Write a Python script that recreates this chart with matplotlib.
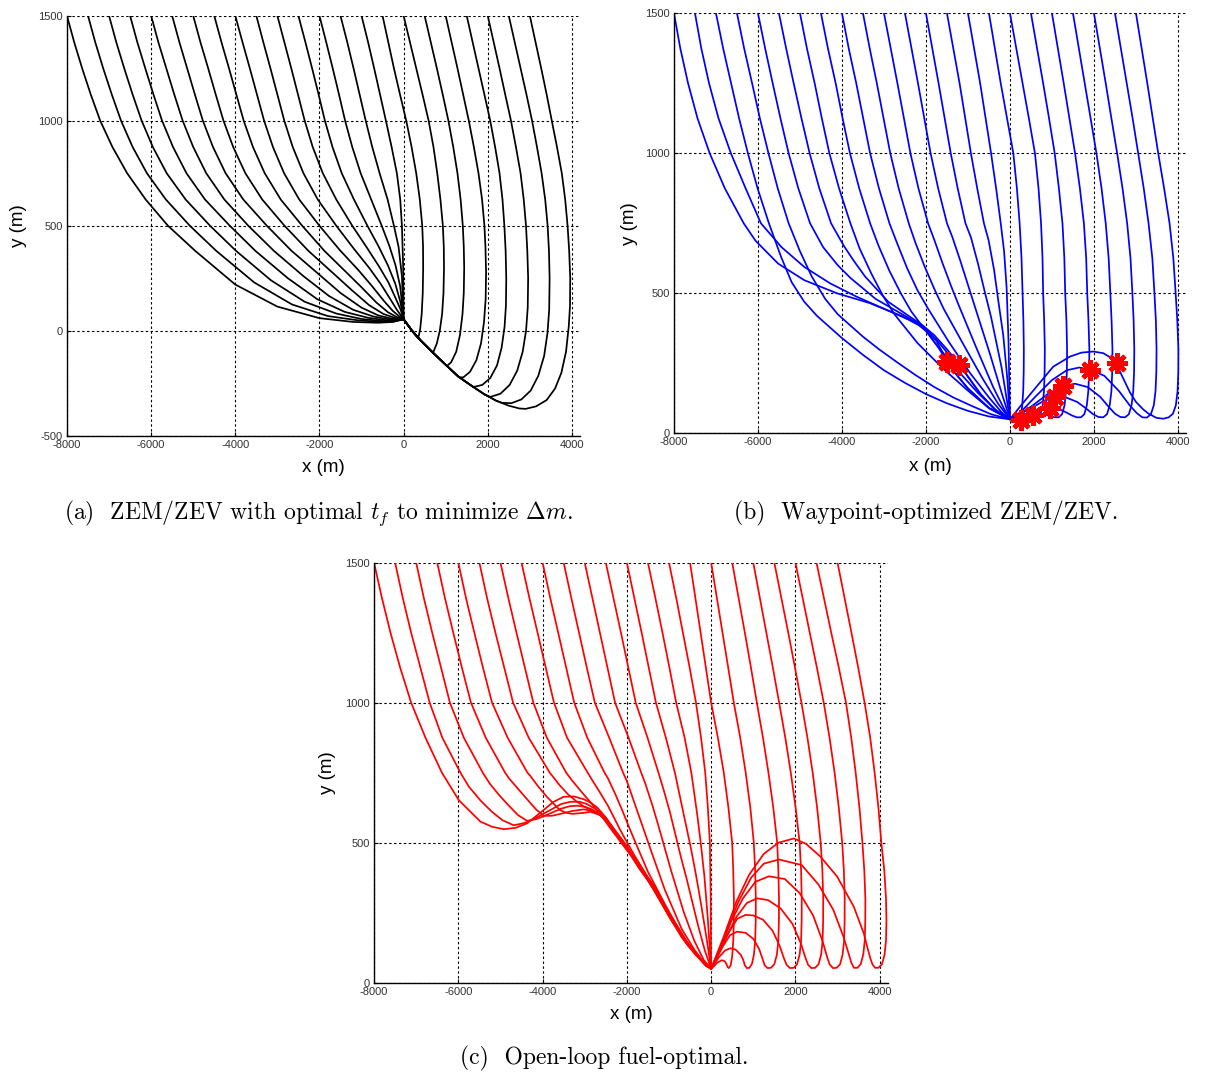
import matplotlib
matplotlib.use("Agg")
import matplotlib.pyplot as plt

plt.rcParams["axes.unicode_minus"] = False
plt.rcParams["mathtext.fontset"] = "cm"

# ---------------------------------------------------------------------------
# Landing trajectories, x / y in metres.  Every panel starts 23 landers at
# y = 1500 m, x0 = -8000 ... 3000 m.  The upper part of each path is stored
# as x at fixed altitudes, the lower part as explicit (x, y) points.
# ---------------------------------------------------------------------------

LEVELS_HI = [1500, 1375, 1250, 1125, 1000, 875, 750]
LEVELS_MID = [1500, 1375, 1250, 1125, 1000, 875, 750, 625, 500]

# ---- (a) ZEM/ZEV, optimal t_f --------------------------------------------
A_LEFT_X = [
    [-8000, -7830, -7640, -7435, -7210, -6920, -6570, -6130, -5600],
    [-7500, -7330, -7140, -6935, -6715, -6440, -6100, -5650, -5080],
    [-7000, -6830, -6640, -6440, -6225, -5960, -5630, -5180, -4600],
    [-6500, -6330, -6140, -5945, -5740, -5480, -5160, -4720, -4130],
    [-6000, -5830, -5640, -5450, -5250, -5000, -4690, -4260, -3690],
    [-5500, -5330, -5145, -4960, -4770, -4530, -4230, -3810, -3250],
    [-5000, -4830, -4645, -4465, -4280, -4050, -3760, -3360, -2830],
    [-4500, -4330, -4150, -3975, -3800, -3580, -3300, -2920, -2410],
    [-4000, -3830, -3655, -3485, -3315, -3105, -2840, -2480, -2000],
    [-3500, -3335, -3165, -3000, -2835, -2635, -2380, -2040, -1600],
    [-3000, -2835, -2670, -2510, -2350, -2160, -1920, -1600, -1220],
    [-2500, -2335, -2175, -2020, -1870, -1690, -1470, -1180, -860],
    [-2000, -1840, -1685, -1535, -1390, -1220, -1020, -770, -520],
    [-1500, -1340, -1190, -1045, -900, -745, -570, -380, -230],
    [-1000, -845, -700, -560, -420, -285, -160, -80, -40],
]
A_LEFT_TAIL = [
    [(-4950, 380), (-4000, 220), (-3000, 115), (-2000, 60), (-1200, 42), (-600, 38), (-250, 42), (0, 55)],
    [(-4450, 380), (-3550, 230), (-2650, 125), (-1800, 70), (-1100, 50), (-550, 42), (-220, 45), (0, 55)],
    [(-3980, 380), (-3150, 240), (-2350, 138), (-1600, 82), (-1000, 56), (-500, 46), (-200, 48), (0, 55)],
    [(-3520, 380), (-2750, 250), (-2050, 150), (-1400, 90), (-850, 62), (-420, 50), (-170, 50), (0, 55)],
    [(-3080, 380), (-2380, 260), (-1770, 165), (-1200, 100), (-720, 68), (-350, 54), (-140, 52), (0, 55)],
    [(-2660, 380), (-2020, 270), (-1500, 180), (-1000, 110), (-600, 73), (-290, 58), (-110, 54), (0, 55)],
    [(-2260, 380), (-1680, 275), (-1240, 195), (-820, 122), (-480, 80), (-220, 62), (0, 55)],
    [(-1880, 380), (-1370, 280), (-990, 205), (-650, 135), (-370, 88), (-160, 65), (0, 55)],
    [(-1520, 385), (-1080, 290), (-760, 215), (-480, 145), (-260, 95), (-100, 68), (0, 55)],
    [(-1180, 390), (-820, 300), (-550, 225), (-330, 155), (-160, 100), (0, 55)],
    [(-870, 395), (-580, 305), (-360, 230), (-190, 155), (-70, 100), (0, 55)],
    [(-590, 400), (-370, 310), (-200, 225), (-80, 140), (0, 55)],
    [(-340, 405), (-190, 310), (-80, 210), (0, 55)],
    [(-120, 400), (-40, 260), (0, 55)],
    [(-10, 300), (0, 55)],
]
A_RIGHT_X = [
    [-500, -365, -230, -85, 63, 190, 300, 385, 443],
    [0, 150, 300, 450, 595, 710, 800, 875, 933],
    [500, 645, 790, 930, 1065, 1180, 1280, 1355, 1407],
    [1000, 1140, 1280, 1415, 1550, 1670, 1780, 1865, 1921],
    [1500, 1640, 1780, 1920, 2059, 2175, 2280, 2350, 2395],
    [2000, 2140, 2280, 2415, 2552, 2670, 2780, 2855, 2909],
    [2500, 2640, 2780, 2920, 3053, 3170, 3280, 3365, 3423],
    [3000, 3135, 3270, 3400, 3522, 3645, 3760, 3840, 3897],
]
# hook below y = 500, ending where the path meets the common lower edge
A_RIGHT_HOOK = [
    [(462, 400), (465, 300), (455, 180), (430, 80), (395, 10), (360, -25), (330, -33)],
    [(955, 400), (960, 300), (948, 180), (915, 80), (860, 0), (790, -60), (720, -95)],
    [(1430, 400), (1440, 300), (1430, 180), (1400, 80), (1340, -20), (1250, -100), (1130, -150), (1030, -168)],
    [(1945, 400), (1960, 280), (1950, 150), (1910, 40), (1840, -60), (1730, -140), (1580, -195), (1420, -222), (1330, -222)],
    [(2425, 380), (2440, 250), (2432, 120), (2400, 20), (2330, -80), (2220, -165), (2060, -225), (1870, -258), (1660, -268)],
    [(2940, 380), (2960, 250), (2950, 110), (2910, 0), (2830, -100), (2700, -190), (2520, -258), (2300, -300), (2060, -315), (1930, -305)],
    [(3455, 380), (3470, 250), (3460, 100), (3420, -10), (3340, -120), (3200, -215), (3020, -285), (2800, -327), (2560, -345), (2330, -343)],
    [(3935, 380), (3960, 250), (3955, 120), (3925, 20), (3860, -100), (3750, -200), (3600, -275), (3400, -330), (3150, -360), (2900, -372), (2750, -370)],
]
A_EDGE = [(2500, -357), (2200, -333), (1900, -300), (1600, -260), (1300, -218),
          (1000, -162), (700, -105), (400, -45), (200, 0), (0, 55)]

# ---- (b) waypoint-optimized ZEM/ZEV --------------------------------------
B_WAY_X = [
    [-8000, -7850, -7665, -7440, -7150, -6790, -6340],
    [-7500, -7350, -7165, -6940, -6645, -6295, -5930],
    [-6000, -5830, -5650, -5465, -5270, -5040, -4760],
    [-5500, -5330, -5150, -4965, -4770, -4540, -4260],
]
B_WAY_TAIL = [
    [(-6060, 688), (-5520, 606), (-4900, 547), (-4120, 500), (-3340, 465), (-2570, 418), (-2200, 390), (-1950, 359), (-1700, 305), (-1500, 258), (-1250, 205), (-1000, 160), (-500, 90), (0, 50)],
    [(-5441, 665), (-4897, 594), (-4276, 535), (-3654, 488), (-3033, 447), (-2412, 406), (-2000, 372), (-1700, 325), (-1450, 280), (-1206, 245), (-950, 192), (-700, 140), (-300, 75), (0, 50)],
    [(-4450, 665), (-4100, 600), (-3800, 555), (-3200, 480), (-2600, 428), (-2250, 398), (-2000, 372), (-1750, 330), (-1500, 258), (-1250, 205), (-1000, 160), (-500, 90), (0, 50)],
    [(-3950, 668), (-3700, 612), (-3450, 560), (-2900, 470), (-2400, 418), (-2100, 388), (-1800, 350), (-1500, 300), (-1206, 245), (-950, 192), (-700, 140), (-300, 75), (0, 50)],
]
B_LEFT_X = [
    [-7000, -6830, -6640, -6450, -6240, -6010, -5740],
    [-6500, -6330, -6140, -5955, -5750, -5530, -5270],
    [-5000, -4835, -4650, -4480, -4300, -4070, -3800],
    [-4500, -4335, -4150, -3985, -3810, -3590, -3330],
    [-4000, -3840, -3660, -3495, -3330, -3120, -2870],
    [-3500, -3340, -3170, -3010, -2850, -2650, -2410],
    [-3000, -2840, -2680, -2525, -2370, -2180, -1950],
    [-2500, -2345, -2190, -2040, -1890, -1710, -1500],
    [-2000, -1850, -1700, -1555, -1410, -1245, -1060],
    [-1500, -1350, -1200, -1065, -930, -780, -620],
    [-1000, -855, -710, -580, -450, -330, -220],
]
B_LEFT_TAIL = [
    [(-5450, 630), (-5200, 540), (-4900, 470), (-4600, 420), (-4000, 340), (-3500, 280), (-3000, 225), (-2500, 180), (-2000, 140), (-1500, 107), (-1000, 80), (-500, 60), (0, 50)],
    [(-5000, 650), (-4720, 560), (-4400, 480), (-4100, 425), (-3500, 345), (-3100, 298), (-2700, 255), (-2250, 208), (-1800, 165), (-1350, 128), (-900, 97), (-450, 68), (0, 50)],
    [(-3580, 660), (-3300, 570), (-3020, 490), (-2750, 425), (-2200, 322), (-1600, 232), (-1000, 152), (-500, 90), (0, 50)],
    [(-3130, 670), (-2870, 580), (-2600, 500), (-2350, 435), (-1800, 325), (-1250, 225), (-750, 142), (-350, 85), (0, 50)],
    [(-2690, 680), (-2450, 590), (-2200, 510), (-1950, 445), (-1450, 325), (-950, 215), (-500, 128), (-200, 75), (0, 50)],
    [(-2250, 680), (-2030, 595), (-1800, 515), (-1580, 445), (-1100, 315), (-650, 195), (-280, 105), (0, 50)],
    [(-1800, 690), (-1600, 605), (-1400, 525), (-1200, 450), (-800, 305), (-400, 165), (-150, 90), (0, 50)],
    [(-1370, 700), (-1180, 615), (-1000, 530), (-820, 445), (-480, 285), (-200, 145), (0, 50)],
    [(-930, 700), (-760, 605), (-600, 505), (-450, 415), (-200, 235), (0, 50)],
    [(-510, 690), (-380, 585), (-270, 465), (-160, 350), (-60, 190), (0, 50)],
    [(-140, 650), (-80, 520), (-35, 330), (0, 50)],
]
B_RIGHT_X = [
    [-500, -360, -220, -70, 80, 165, 230, 275, 300],
    [0, 150, 300, 450, 595, 680, 740, 775, 790],
    [500, 645, 790, 930, 1065, 1165, 1250, 1295, 1315],
    [1000, 1140, 1280, 1415, 1550, 1665, 1760, 1815, 1840],
    [1500, 1640, 1780, 1920, 2059, 2180, 2280, 2350, 2390],
    [2000, 2140, 2280, 2415, 2552, 2680, 2790, 2870, 2915],
    [2500, 2640, 2780, 2920, 3053, 3185, 3300, 3390, 3440],
    [3000, 3135, 3270, 3400, 3530, 3670, 3800, 3890, 3945],
]
B_RIGHT_TAIL = [
    [(320, 400), (330, 300), (327, 220), (315, 150), (290, 95), (250, 65), (200, 53), (120, 50), (0, 50)],
    [(815, 400), (830, 300), (825, 220), (810, 150), (775, 95), (720, 65), (650, 55), (540, 52), (400, 52), (260, 50), (120, 50), (0, 50)],
    [(1345, 400), (1360, 300), (1355, 220), (1335, 150), (1300, 100), (1240, 68), (1160, 57), (1070, 57), (950, 62), (800, 67), (555, 67), (300, 60), (0, 50)],
    [(1870, 400), (1890, 300), (1885, 220), (1865, 150), (1830, 100), (1770, 68), (1690, 57), (1590, 57), (1470, 64), (1320, 76), (1150, 88), (955, 92), (700, 85), (350, 66), (0, 50)],
    [(2420, 400), (2440, 300), (2435, 220), (2415, 150), (2375, 100), (2310, 68), (2220, 57), (2110, 58), (1980, 68), (1800, 90), (1600, 112), (1300, 130), (1080, 130), (800, 115), (450, 85), (0, 50)],
    [(2945, 400), (2960, 300), (2955, 220), (2935, 150), (2895, 100), (2830, 68), (2740, 57), (2630, 58), (2500, 70), (2330, 98), (2150, 130), (1850, 165), (1550, 177), (1252, 168), (900, 140), (500, 95), (200, 65), (0, 50)],
    [(3475, 400), (3490, 300), (3485, 220), (3465, 150), (3425, 100), (3355, 68), (3260, 56), (3150, 57), (3020, 72), (2850, 100), (2600, 150), (2250, 205), (1915, 227), (1650, 235), (1350, 225), (1000, 190), (600, 130), (250, 75), (0, 50)],
    [(3985, 400), (4010, 300), (4008, 220), (3990, 150), (3950, 100), (3880, 70), (3780, 57), (3650, 52), (3490, 55), (3300, 70), (3175, 85), (3000, 112), (2860, 145), (2700, 195), (2540, 245), (2380, 272), (2222, 286), (1984, 292), (1700, 288), (1430, 274), (1030, 238), (635, 167), (238, 95), (0, 50)],
]
WAYPOINT_X = [-1500, -1206, 260, 555, 955, 1080, 1252, 1915, 2540]
WAYPOINT_Y = [256, 245, 48, 67, 90, 130, 168, 227, 250]

# ---- (c) open-loop fuel-optimal ------------------------------------------
C_LEFT_X = [
    [-8000, -7815, -7610, -7380, -7120, -6780, -6390],
    [-7500, -7320, -7120, -6900, -6680, -6380, -5950],
    [-7000, -6820, -6620, -6410, -6200, -5870, -5420],
    [-6500, -6320, -6120, -5915, -5700, -5350, -4890],
    [-6000, -5820, -5620, -5415, -5200, -4830, -4360],
    [-5500, -5320, -5120, -4910, -4700, -4330, -3830],
    [-5000, -4815, -4620, -4420, -4220, -3900, -3440],
    [-4500, -4315, -4120, -3925, -3730, -3420, -2930],
    [-4000, -3820, -3630, -3440, -3250, -2940, -2530],
    [-3500, -3320, -3135, -2950, -2760, -2420, -2090],
    [-3000, -2820, -2640, -2460, -2280, -1960, -1660],
    [-2500, -2320, -2140, -1965, -1790, -1510, -1250],
    [-2000, -1825, -1650, -1480, -1310, -1075, -860],
    [-1500, -1325, -1155, -990, -830, -630, -470],
    [-1000, -830, -670, -510, -360, -240, -140],
]
C_LEFT_TAIL = [
    [(-5989, 652), (-5475, 575), (-5200, 557), (-4921, 548), (-4640, 553), (-4367, 569), (-3972, 617), (-3750, 645), (-3500, 664), (-3250, 665), (-3022, 655), (-2850, 642), (-2700, 625), (-2500, 590), (-2300, 548), (-2000, 488), (-1700, 416), (-1361, 348), (-965, 242), (-570, 145), (-300, 95), (-120, 62), (0, 50)],
    [(-5750, 700), (-5470, 650), (-5200, 610), (-4950, 580), (-4684, 562), (-4440, 570), (-4200, 585), (-3800, 618), (-3560, 638), (-3339, 646), (-3120, 646), (-2950, 638), (-2650, 612), (-2480, 585), (-2330, 548), (-2000, 485), (-1700, 412), (-1361, 344), (-965, 239), (-570, 143), (-300, 94), (-120, 62), (0, 50)],
    [(-5250, 710), (-5020, 668), (-4800, 632), (-4580, 598), (-4367, 578), (-4150, 584), (-3950, 596), (-3550, 622), (-3360, 630), (-3180, 632), (-3000, 628), (-2850, 620), (-2600, 600), (-2480, 580), (-2350, 550), (-2000, 482), (-1700, 409), (-1361, 341), (-965, 236), (-570, 141), (-300, 93), (-120, 61), (0, 50)],
    [(-4800, 730), (-4570, 690), (-4350, 652), (-4150, 618), (-3972, 596), (-3780, 596), (-3600, 602), (-3300, 613), (-3022, 619), (-2750, 610), (-2500, 585), (-2250, 532), (-2000, 479), (-1700, 406), (-1361, 338), (-965, 233), (-570, 140), (-300, 92), (-120, 61), (0, 50)],
    [(-4300, 740), (-4100, 700), (-3900, 664), (-3600, 618), (-3450, 607), (-3300, 603), (-3050, 606), (-2864, 610), (-2650, 600), (-2400, 567), (-2150, 516), (-1900, 462), (-1650, 401), (-1361, 335), (-965, 230), (-570, 138), (-300, 91), (-120, 60), (0, 50)],
    [(-3600, 706), (-3400, 673), (-3200, 648), (-3050, 632), (-2800, 612), (-2600, 596), (-2400, 566), (-2150, 514), (-1900, 460), (-1650, 399), (-1361, 332), (-965, 227), (-570, 136), (-300, 90), (-120, 60), (0, 50)],
    [(-3300, 722), (-3080, 682), (-2850, 642), (-2650, 604), (-2500, 574), (-2350, 543), (-2200, 513), (-1900, 453), (-1500, 366), (-1100, 264), (-700, 162), (-400, 105), (-180, 70), (0, 50)],
    [(-2850, 730), (-2650, 682), (-2450, 632), (-2300, 588), (-2150, 543), (-1850, 462), (-1500, 376), (-1100, 272), (-700, 167), (-400, 108), (-180, 71), (0, 50)],
    [(-2450, 730), (-2270, 672), (-2100, 612), (-1950, 556), (-1800, 502), (-1500, 396), (-1100, 281), (-700, 171), (-400, 110), (-180, 72), (0, 50)],
    [(-2000, 720), (-1850, 655), (-1700, 590), (-1550, 525), (-1400, 460), (-1100, 332), (-700, 192), (-400, 118), (-180, 74), (0, 50)],
    [(-1560, 710), (-1400, 636), (-1250, 560), (-1100, 480), (-950, 400), (-650, 252), (-400, 150), (-180, 82), (0, 50)],
    [(-1130, 690), (-980, 610), (-850, 530), (-720, 450), (-580, 370), (-320, 210), (-150, 115), (0, 50)],
    [(-720, 650), (-600, 565), (-480, 480), (-360, 385), (-250, 290), (-110, 160), (0, 50)],
    [(-330, 600), (-240, 490), (-160, 380), (-80, 230), (0, 50)],
    [(-80, 630), (-30, 500), (-10, 300), (0, 50)],
]
C_RIGHT_X = [
    [-500, -375, -250, -125, 0, 160, 300, 410, 499],
    [0, 135, 270, 405, 538, 690, 820, 930, 1013],
    [500, 650, 800, 945, 1085, 1230, 1360, 1475, 1568],
    [1000, 1155, 1310, 1465, 1614, 1760, 1890, 2005, 2100],
    [1500, 1665, 1830, 1990, 2143, 2285, 2410, 2515, 2600],
    [2000, 2170, 2340, 2510, 2672, 2810, 2930, 3030, 3110],
    [2500, 2675, 2850, 3030, 3200, 3325, 3430, 3520, 3590],
    [3000, 3165, 3330, 3490, 3642, 3775, 3880, 3970, 4039],
]
C_RIGHT_TAIL = [
    [(525, 400), (540, 300), (538, 220), (525, 150), (500, 95), (465, 62), (420, 52), (390, 56), (360, 68), (320, 77), (250, 80), (150, 72), (60, 58), (0, 50)],
    [(1045, 400), (1060, 300), (1058, 220), (1045, 150), (1015, 100), (970, 68), (910, 53), (850, 52), (800, 62), (760, 82), (700, 100), (580, 118), (459, 123), (330, 115), (180, 90), (0, 50)],
    [(1595, 400), (1610, 300), (1608, 220), (1595, 150), (1560, 100), (1500, 66), (1420, 53), (1340, 52), (1270, 62), (1220, 85), (1140, 120), (1010, 155), (820, 178), (617, 182), (450, 170), (280, 130), (120, 85), (0, 50)],
    [(2135, 400), (2150, 300), (2148, 220), (2135, 150), (2100, 100), (2040, 66), (1960, 53), (1870, 52), (1790, 64), (1720, 90), (1630, 130), (1460, 185), (1230, 225), (1000, 240), (815, 242), (620, 228), (420, 180), (220, 120), (0, 50)],
    [(2640, 400), (2660, 300), (2658, 220), (2645, 150), (2610, 100), (2550, 66), (2470, 53), (2380, 52), (2300, 64), (2240, 88), (2130, 140), (1930, 210), (1650, 265), (1350, 295), (1092, 301), (850, 285), (600, 235), (350, 160), (150, 95), (0, 50)],
    [(3150, 400), (3170, 300), (3168, 220), (3155, 150), (3120, 100), (3060, 66), (2980, 53), (2890, 52), (2810, 66), (2760, 88), (2640, 150), (2420, 240), (2100, 320), (1750, 370), (1370, 380), (1050, 360), (750, 300), (480, 220), (250, 135), (0, 50)],
    [(3635, 400), (3660, 300), (3658, 220), (3645, 150), (3610, 100), (3550, 66), (3470, 53), (3390, 53), (3330, 70), (3290, 90), (3150, 160), (2900, 260), (2550, 350), (2150, 420), (1610, 440), (1250, 425), (950, 375), (650, 290), (380, 190), (150, 100), (0, 50)],
    [(4110, 400), (4150, 300), (4160, 220), (4150, 150), (4115, 100), (4055, 66), (3970, 53), (3890, 53), (3830, 65), (3782, 85), (3700, 130), (3623, 176), (3386, 271), (2990, 379), (2595, 450), (2250, 496), (1962, 515), (1600, 500), (1250, 460), (900, 385), (600, 290), (300, 165), (0, 50)],
]

CAPTIONS = [
    r"(a)  ZEM/ZEV with optimal $t_f$ to minimize $\Delta m$.",
    "(b)  Waypoint-optimized ZEM/ZEV.",
    "(c)  Open-loop fuel-optimal.",
]
X_TICKS = [-8000, -6000, -4000, -2000, 0, 2000, 4000]


def build(tops, levels, tails):
    """Join the fixed-altitude upper part of each path with its lower part."""
    return [list(zip(xs, levels)) + tail for xs, tail in zip(tops, tails)]


def draw_curves(ax, curves, color):
    for pts in curves:
        xs, ys = zip(*pts)
        ax.plot(xs, ys, color=color, lw=1.25, solid_joinstyle="round",
                solid_capstyle="round")


def style_axes(ax, ylim, yticks, xlab_y, ylab_x):
    ax.set_xlim(-8000, 4200)
    ax.set_ylim(*ylim)
    ax.set_xticks(X_TICKS)
    ax.set_yticks(yticks)
    ax.grid(True, color="black", linestyle=(0, (2.2, 2.2)), lw=0.8)
    ax.set_axisbelow(True)
    for side in ("top", "right"):
        ax.spines[side].set_visible(False)
    for side in ("left", "bottom"):
        ax.spines[side].set_linewidth(1.0)
    ax.tick_params(direction="in", length=3, width=0.8, labelsize=8,
                   labelcolor="#333333", pad=3)
    for lab in ax.get_xticklabels() + ax.get_yticklabels():
        lab.set_fontfamily("Liberation Sans")
    ax.set_xlabel("x (m)", fontsize=13.5, fontfamily="Liberation Sans")
    ax.set_ylabel("y (m)", fontsize=13.5, fontfamily="Liberation Sans")
    ax.xaxis.set_label_coords(0.5, xlab_y)
    ax.yaxis.set_label_coords(ylab_x, 0.5)
    ax.xaxis.label.set_va("center")
    ax.yaxis.label.set_va("center")


a_right = []
for xs, hook in zip(A_RIGHT_X, A_RIGHT_HOOK):
    join_x = hook[-1][0]
    a_right.append(list(zip(xs, LEVELS_MID)) + hook
                   + [p for p in A_EDGE if p[0] < join_x])

fig = plt.figure(figsize=(12.07, 10.73), dpi=100)

ax_a = fig.add_axes([0.0555, 0.5939, 0.4253, 0.3914])
ax_b = fig.add_axes([0.5584, 0.5962, 0.4245, 0.3914])
ax_c = fig.add_axes([0.3099, 0.0842, 0.4259, 0.3914])

# (a)
draw_curves(ax_a, build(A_LEFT_X, LEVELS_MID, A_LEFT_TAIL), "black")
draw_curves(ax_a, a_right, "black")
style_axes(ax_a, (-500, 1500), [-500, 0, 500, 1000, 1500], -0.075, -0.095)

# (b)
draw_curves(ax_b, build(B_LEFT_X, LEVELS_HI, B_LEFT_TAIL), "#0000ff")
draw_curves(ax_b, build(B_WAY_X, LEVELS_HI, B_WAY_TAIL), "#0000ff")
draw_curves(ax_b, build(B_RIGHT_X, LEVELS_MID, B_RIGHT_TAIL), "#0000ff")
# waypoints: a filled core under a thick asterisk gives the ragged star blob
ax_b.plot(WAYPOINT_X, WAYPOINT_Y, linestyle="none", marker="o", ms=9,
          color="#ff0000", mec="none", zorder=5)
ax_b.plot(WAYPOINT_X, WAYPOINT_Y, linestyle="none", marker=(8, 2, 0),
          ms=15, mew=3.2, color="#ff0000", zorder=6)
style_axes(ax_b, (0, 1500), [0, 500, 1000, 1500], -0.08, -0.086)

# (c)
draw_curves(ax_c, build(C_LEFT_X, LEVELS_HI, C_LEFT_TAIL), "#ff0000")
draw_curves(ax_c, build(C_RIGHT_X, LEVELS_MID, C_RIGHT_TAIL), "#ff0000")
style_axes(ax_c, (0, 1500), [0, 500, 1000, 1500], -0.077, -0.0915)

for (cx, cy), text in zip([(0.2635, 0.5219), (0.767, 0.5219), (0.5004, 0.014)], CAPTIONS):
    fig.text(cx, cy, text, ha="center", va="center", fontsize=17,
             fontfamily="cmr10")

fig.savefig("out.png", dpi=100)
